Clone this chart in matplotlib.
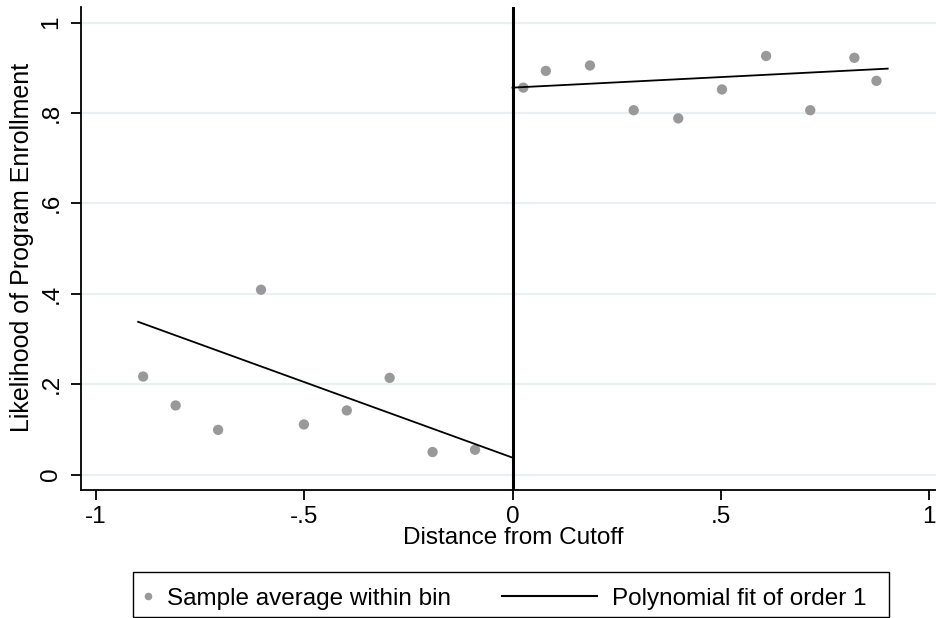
import matplotlib
matplotlib.use("Agg")
import matplotlib.pyplot as plt
from matplotlib.lines import Line2D
from matplotlib.patches import Rectangle

plt.rcParams['font.family'] = ['Liberation Sans', 'DejaVu Sans']

# Data
bin_x_left = [-0.887, -0.809, -0.707, -0.604, -0.501, -0.398, -0.295, -0.192, -0.090]
bin_y_left = [0.217, 0.153, 0.099, 0.409, 0.111, 0.142, 0.214, 0.050, 0.055]
bin_x_right = [0.026, 0.080, 0.186, 0.291, 0.398, 0.503, 0.609, 0.715, 0.821, 0.874]
bin_y_right = [0.856, 0.893, 0.905, 0.806, 0.788, 0.852, 0.926, 0.806, 0.922, 0.871]
fit_x_left = [-0.899, 0.0]
fit_y_left = [0.338, 0.0376]
fit_x_right = [0.0, 0.901]
fit_y_right = [0.856, 0.898]
cutoff = 0.0
xticks = [-1, -0.5, 0, 0.5, 1]
xtick_labels = ["-1", "-.5", "0", ".5", "1"]
yticks = [0, 0.2, 0.4, 0.6, 0.8, 1.0]
ytick_labels = ["0", ".2", ".4", ".6", ".8", "1"]
legend_labels = ["Sample average within bin", "Polynomial fit of order 1"]

W, H = 936, 618
FS = 17.5
fig = plt.figure(figsize=(W / 100, H / 100), dpi=100)
ax_l, ax_b, ax_t = 80.7, 490.0, 6.7
ax = fig.add_axes([ax_l / W, (H - ax_b) / H, 1 - ax_l / W, (ax_b - ax_t) / H])

ax.set_xlim(-1.037, 1.017)
ax.set_ylim(-0.034, 1.035)

for yv in yticks:
    ax.axhline(yv, color='#e8f0f2', lw=1.6, zorder=0)

dot_color = '#999999'
ax.scatter(bin_x_left, bin_y_left, s=55, color=dot_color, edgecolors='none', zorder=3)
ax.scatter(bin_x_right, bin_y_right, s=55, color=dot_color, edgecolors='none', zorder=3)
ax.plot(fit_x_left, fit_y_left, color='black', lw=1.3, zorder=4)
ax.plot(fit_x_right, fit_y_right, color='black', lw=1.3, zorder=4)
ax.axvline(cutoff, color='black', lw=2.2, zorder=5)

ax.spines['top'].set_visible(False)
ax.spines['right'].set_visible(False)
for s in ('left', 'bottom'):
    ax.spines[s].set_linewidth(1.3)

ax.set_xticks(xticks)
ax.set_xticklabels(xtick_labels)
ax.set_yticks(yticks)
ax.set_yticklabels(ytick_labels, rotation=90, va='center')
ax.tick_params(axis='both', length=7.2, width=1.3, labelsize=FS, color='black')
ax.tick_params(axis='y', pad=6)
ax.tick_params(axis='x', pad=4.5)

ax.set_xlabel("Distance from Cutoff", fontsize=FS, va='baseline')
ax.xaxis.set_label_coords((513 - ax_l) / (W - ax_l), -(544 - ax_b) / (ax_b - ax_t))
ax.set_ylabel("Likelihood of Program Enrollment", fontsize=18)
ax.yaxis.set_label_coords(-(ax_l - 34.5) / (W - ax_l), (ax_b - 247.5) / (ax_b - ax_t))

# Legend box drawn in figure pixel coordinates
def fy(y):
    return (H - y) / H

def fx(x):
    return x / W

box = Rectangle((fx(133.3), fy(616.7)), fx(889.3) - fx(133.3), fy(572.3) - fy(616.7),
                transform=fig.transFigure, fill=False, edgecolor='black', lw=1.0)
fig.add_artist(box)
fig.add_artist(Line2D([fx(148.3)], [fy(596)], marker='o', markersize=5.5, color=dot_color,
                      markeredgewidth=0, linestyle='none', transform=fig.transFigure))
fig.text(fx(166.7), fy(605), legend_labels[0], fontsize=FS, va='baseline', ha='left')
fig.add_artist(Line2D([fx(501.7), fx(596.7)], [fy(596), fy(596)], color='black', lw=1.5,
                      transform=fig.transFigure))
fig.text(fx(611.7), fy(605), legend_labels[1], fontsize=FS, va='baseline', ha='left')

fig.savefig("out.png", dpi=100)
